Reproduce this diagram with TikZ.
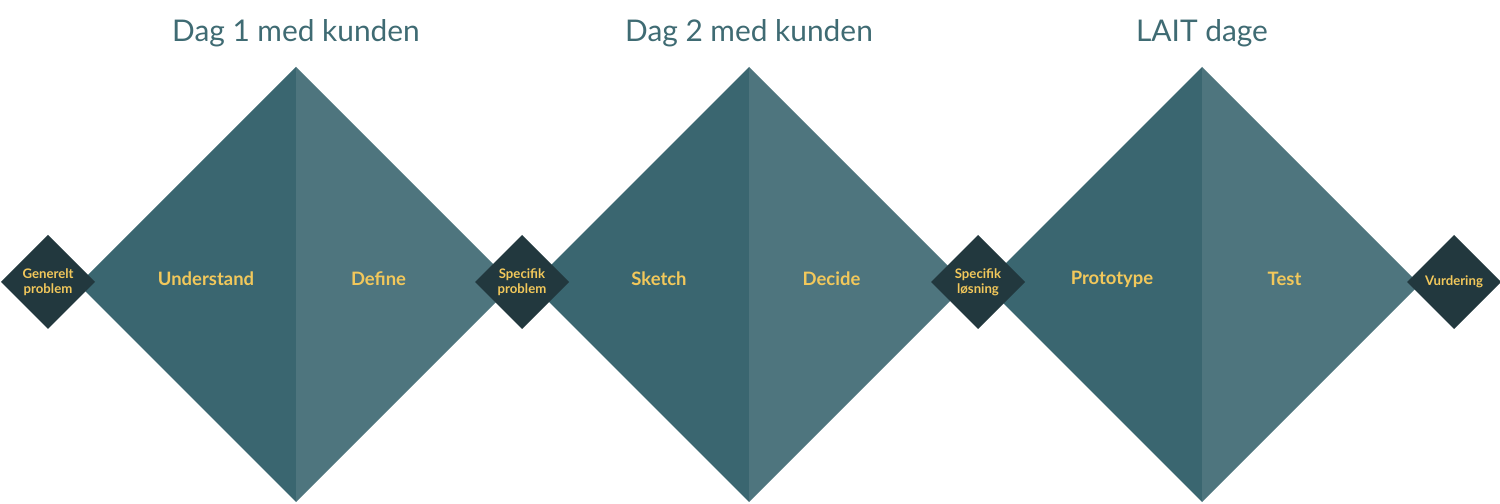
\documentclass[tikz,border=0pt]{standalone}
\usepackage{fontspec}
\setmainfont{Lato}
\definecolor{tealdark}{HTML}{3A6670}
\definecolor{teallight}{HTML}{4E757E}
\definecolor{tealink}{HTML}{22383E}
\definecolor{titlecol}{HTML}{3F6B73}
\definecolor{labelcol}{HTML}{F2C85B}
\tikzset{
  phase/.style={text=labelcol,font=\bfseries\fontsize{10.5}{12}\selectfont},
  gate/.style={text=labelcol,font=\bfseries\fontsize{7.5}{8.5}\selectfont,align=center},
  heading/.style={text=titlecol,font=\fontsize{17}{20}\selectfont}
}
\begin{document}
\begin{tikzpicture}
\useasboundingbox (0,0) rectangle (30,10.08);
% big diamonds, two halves each
\foreach \cx/\title/\left/\right in {5.92/Dag 1 med kunden/Understand/Define,
  14.98/Dag 2 med kunden/Sketch/Decide, 24.04/LAIT dage/Prototype/Test}{
  \fill[tealdark] (\cx,8.74) -- (\cx-4.35,4.39) -- (\cx,0.04) -- cycle;
  \fill[teallight] (\cx,8.74) -- (\cx+4.35,4.39) -- (\cx,0.04) -- cycle;
  \node[heading] (t\cx) at (\cx,9.42) {\title};
  \node[phase] (l\cx) at (\cx-1.8,4.5) {\left};
  \node[phase] (r\cx) at (\cx+1.65,4.5) {\right};
}
% small diamonds
\foreach \gx/\txt in {0.96/Generelt\\problem, 10.44/Specifik\\problem,
  19.56/Specifik\\løsning, 29.08/Vurdering}{
  \fill[tealink] (\gx,5.38) -- (\gx+0.94,4.44) -- (\gx,3.5) -- (\gx-0.94,4.44) -- cycle;
  \node[gate] (g\gx) at (\gx,4.44) {\txt};
}
\end{tikzpicture}
\end{document}
